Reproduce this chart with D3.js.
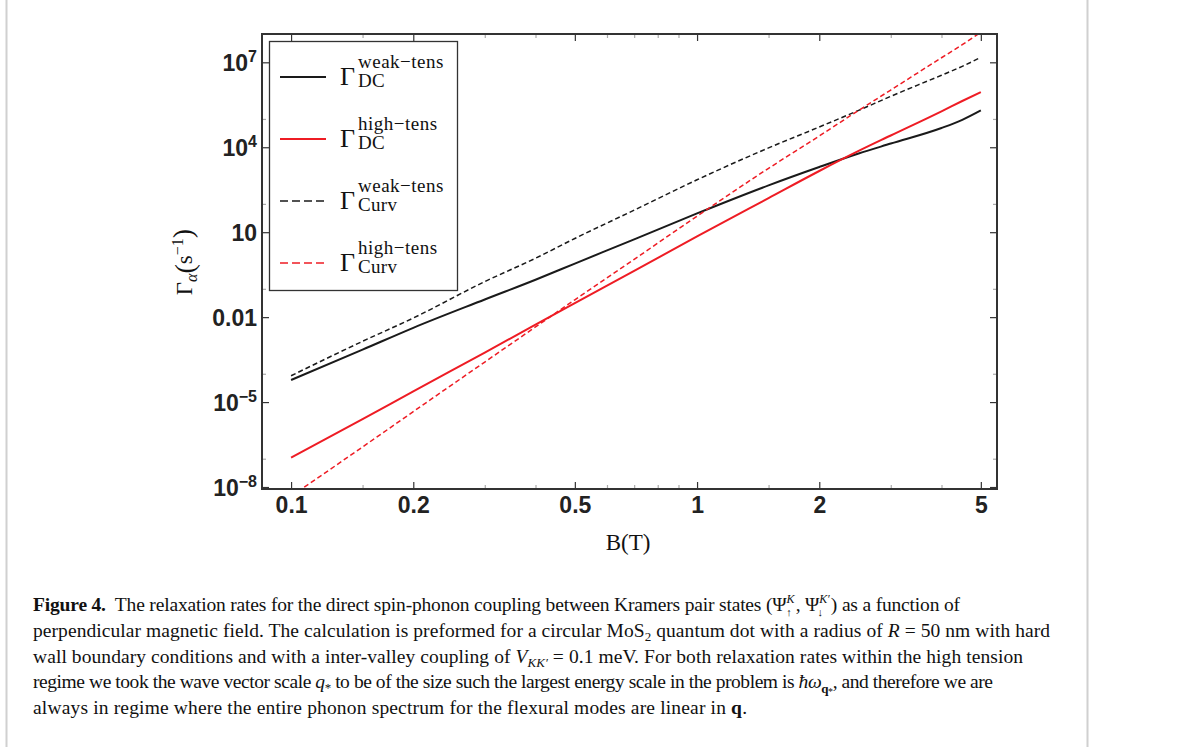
<!DOCTYPE html>
<html>
<head>
<meta charset="utf-8">
<script src="https://cdn.jsdelivr.net/npm/d3@7"></script>
<style>
  body { margin: 0; background: #fff; }
  svg { display: block; }
  .tick-label { font-family: "Liberation Sans", Arial, sans-serif; font-weight: bold; font-size: 23px; fill: #222; }
  .serif { font-family: "Liberation Serif", "Times New Roman", serif; fill: #111; }
</style>
</head>
<body>
<svg id="chart" width="1179" height="747"></svg>
<script>
// magnetic field B (T) and the four relaxation rates (s^-1)
const fieldB = [0.1, 0.15, 0.2, 0.3, 0.4, 0.5, 0.7, 1, 1.5, 2, 2.5, 3, 4, 4.5, 5];
const rateDcWeak = [6.0e-5, 7.1e-4, 4.2e-3, 4.2e-2, 0.21, 0.78, 5.6, 46, 450, 2.0e3, 6.0e3, 1.35e4, 4.8e4, 9.3e4, 2.0e5];
const rateDcHigh = [1.1e-7, 2.5e-6, 2.4e-5, 5.6e-4, 5.4e-3, 3.1e-2, 0.43, 7.1, 160, 1.45e3, 7.4e3, 2.6e4, 1.86e5, 4.3e5, 8.9e5];
const rateCurvWeak = [8.5e-5, 1.4e-3, 9.3e-3, 0.18, 1.2, 6.0, 60, 710, 9.5e3, 5.2e4, 2.0e5, 6.3e5, 3.5e6, 7.2e6, 1.5e7];
const rateCurvHigh = [4.7e-9, 2.6e-7, 4.6e-6, 2.6e-4, 4.5e-3, 4.1e-2, 1.1, 37, 1.8e3, 2.5e4, 2.0e5, 1.05e6, 1.45e7, 4.2e7, 1.15e8];

const xMajorTicks = [0.1, 0.2, 0.5, 1, 2, 5];
const xMinorTicks = [0.15, 0.3, 0.4, 0.6, 0.7, 0.8, 0.9, 1.5, 3, 4];
const yMajorTicks = [1e-8, 1e-5, 0.01, 10, 1e4, 1e7];
const yMinorTicks = [1e-7, 1e-4, 0.1, 100, 1e5];
// [base, exponent] for each major y tick
const yTickLabels = [['10', '−8'], ['10', '−5'], ['0.01', ''], ['10', ''], ['10', '4'], ['10', '7']];

const seriesSup = ['weak−tens', 'high−tens', 'weak−tens', 'high−tens'];
const seriesSub = ['DC', 'DC', 'Curv', 'Curv'];

const series = [
  { values: rateDcWeak, color: '#1a1a1a', dash: null, keyDash: null, width: 2 },
  { values: rateDcHigh, color: '#ee1c24', dash: null, keyDash: null, width: 2 },
  { values: rateCurvWeak, color: '#1a1a1a', dash: '5,3', keyDash: '8,4', width: 1.5 },
  { values: rateCurvHigh, color: '#ee1c24', dash: '5,3', keyDash: '8,4', width: 1.5 },
];

// caption line widths in the reference, used to spread each line
const captionWidths = [927, 1017, 990, 960, 714];

const plot = { left: 262, right: 997, top: 34, bottom: 489 };

const svg = d3.select('#chart');

const x = d3.scaleLog()
  .domain([0.0848, 5.48])
  .range([plot.left, plot.right]);

const y = d3.scaleLog()
  .domain([Math.pow(10, -8.07), 1e8])
  .range([plot.bottom, plot.top]);

// page edges
svg.append('line').attr('x1', 6.5).attr('x2', 6.5).attr('y1', 0).attr('y2', 747)
  .attr('stroke', '#d0d0d0').attr('stroke-width', 2);
svg.append('line').attr('x1', 1087.5).attr('x2', 1087.5).attr('y1', 0).attr('y2', 747)
  .attr('stroke', '#d0d0d0').attr('stroke-width', 2);

svg.append('clipPath').attr('id', 'plot-clip')
  .append('rect')
  .attr('x', plot.left).attr('y', plot.top)
  .attr('width', plot.right - plot.left).attr('height', plot.bottom - plot.top);

// ticks: inward, mirrored on all four sides
const axisStyle = (g, color) => {
  g.select('.domain').remove();
  g.selectAll('.tick line').attr('stroke', color).attr('stroke-width', 1.2);
};

svg.append('g')
  .attr('transform', `translate(0,${plot.bottom})`)
  .call(d3.axisBottom(x).tickValues(xMinorTicks).tickSize(-4).tickFormat(''))
  .call(g => axisStyle(g, '#aaa'));
svg.append('g')
  .attr('transform', `translate(0,${plot.top})`)
  .call(d3.axisTop(x).tickValues(xMinorTicks).tickSize(-4).tickFormat(''))
  .call(g => axisStyle(g, '#aaa'));
svg.append('g')
  .attr('transform', `translate(${plot.left},0)`)
  .call(d3.axisLeft(y).tickValues(yMinorTicks).tickSize(-4).tickFormat(''))
  .call(g => axisStyle(g, '#aaa'));
svg.append('g')
  .attr('transform', `translate(${plot.right},0)`)
  .call(d3.axisRight(y).tickValues(yMinorTicks).tickSize(-4).tickFormat(''))
  .call(g => axisStyle(g, '#aaa'));

svg.append('g')
  .attr('transform', `translate(0,${plot.top})`)
  .call(d3.axisTop(x).tickValues(xMajorTicks).tickSize(-7).tickFormat(''))
  .call(g => axisStyle(g, '#333'));
svg.append('g')
  .attr('transform', `translate(${plot.right},0)`)
  .call(d3.axisRight(y).tickValues(yMajorTicks).tickSize(-7).tickFormat(''))
  .call(g => axisStyle(g, '#333'));

const xAxis = svg.append('g')
  .attr('transform', `translate(0,${plot.bottom})`)
  .call(d3.axisBottom(x).tickValues(xMajorTicks).tickSize(-7).tickPadding(8)
    .tickFormat(d => String(d)))
  .call(g => axisStyle(g, '#333'));
xAxis.selectAll('text')
  .attr('class', 'tick-label')
  .attr('fill', null);

const yAxis = svg.append('g')
  .attr('transform', `translate(${plot.left},0)`)
  .call(d3.axisLeft(y).tickValues(yMajorTicks).tickSize(-7).tickPadding(5).tickFormat(''))
  .call(g => axisStyle(g, '#333'));
yAxis.selectAll('.tick text')
  .attr('class', 'tick-label')
  .attr('fill', null)
  .attr('dy', '0.37em')
  .each(function(d, i) {
    const [base, exp] = yTickLabels[i];
    const t = d3.select(this);
    t.append('tspan').text(base);
    if (exp) {
      t.append('tspan').text(exp)
        .attr('font-size', 16)
        .attr('dy', -9.5);
    }
  });

// curves
const line = d3.line()
  .x((d, i) => x(fieldB[i]))
  .y(d => y(d))
  .curve(d3.curveMonotoneX);

svg.append('g')
  .attr('clip-path', 'url(#plot-clip)')
  .selectAll('path')
  .data(series)
  .join('path')
  .attr('d', d => line(d.values))
  .attr('fill', 'none')
  .attr('stroke', d => d.color)
  .attr('stroke-width', d => d.width)
  .attr('stroke-dasharray', d => d.dash);

// frame
svg.append('rect')
  .attr('x', plot.left).attr('y', plot.top)
  .attr('width', plot.right - plot.left).attr('height', plot.bottom - plot.top)
  .attr('fill', 'none')
  .attr('stroke', '#333')
  .attr('stroke-width', 2);

// legend
const legend = svg.append('g');
legend.append('rect')
  .attr('x', 269.5).attr('y', 41.5)
  .attr('width', 188).attr('height', 249)
  .attr('fill', '#fff')
  .attr('stroke', '#333')
  .attr('stroke-width', 1.3);

const entry = legend.selectAll('g.entry')
  .data(series)
  .join('g')
  .attr('class', 'entry')
  .attr('transform', (d, i) => `translate(0,${77 + i * 62})`);

entry.append('line')
  .attr('x1', 280).attr('x2', 326)
  .attr('stroke', d => d.color)
  .attr('stroke-width', d => d.width)
  .attr('stroke-dasharray', d => d.keyDash);

entry.append('text')
  .attr('class', 'serif')
  .attr('x', 340)
  .attr('y', 8)
  .attr('font-size', 26)
  .text('Γ');

entry.append('text')
  .attr('class', 'serif')
  .attr('x', 358)
  .attr('y', -9)
  .attr('font-size', 19)
  .attr('letter-spacing', 0.5)
  .text((d, i) => seriesSup[i]);

entry.append('text')
  .attr('class', 'serif')
  .attr('x', 358)
  .attr('y', 10)
  .attr('font-size', 19)
  .attr('letter-spacing', 0.3)
  .text((d, i) => seriesSub[i]);

// axis titles
svg.append('text')
  .attr('class', 'serif')
  .attr('x', 628)
  .attr('y', 550)
  .attr('text-anchor', 'middle')
  .attr('font-size', 23)
  .text('B(T)');

const yTitle = svg.append('text')
  .attr('class', 'serif')
  .attr('transform', 'translate(192,262) rotate(-90)')
  .attr('text-anchor', 'middle')
  .attr('font-size', 23);
yTitle.append('tspan').text('Γ');
yTitle.append('tspan').text('α').attr('font-style', 'italic').attr('font-size', 16).attr('dy', 5);
yTitle.append('tspan').text('(').attr('font-size', 28).attr('dy', -3);
yTitle.append('tspan').text('s').attr('dy', -2);
yTitle.append('tspan').text('−1').attr('font-size', 16).attr('dy', -9);
yTitle.append('tspan').text(')').attr('font-size', 28).attr('dy', 9);

// caption
const captionLines = [
  [
    { t: 'Figure 4.', b: true },
    { t: '  The relaxation rates for the direct spin-phonon coupling between Kramers pair states (Ψ' },
    { t: 'K', i: true, s: 12, dy: -8 },
    { t: '↑', s: 11, dx: -8, dy: 13 },
    { t: ', Ψ', dx: 4, dy: -5 },
    { t: 'K′', i: true, s: 12, dy: -8 },
    { t: '↓', s: 11, dx: -12, dy: 13 },
    { t: ') as a function of', dx: 8, dy: -5 },
  ],
  [
    { t: 'perpendicular magnetic field. The calculation is preformed for a circular MoS' },
    { t: '2', s: 13, dy: 4 },
    { t: ' quantum dot with a radius of ', dy: -4 },
    { t: 'R', i: true },
    { t: ' = 50 nm with hard' },
  ],
  [
    { t: 'wall boundary conditions and with a inter-valley coupling of ' },
    { t: 'V', i: true },
    { t: 'KK′', i: true, s: 13, dy: 4 },
    { t: ' = 0.1 meV. For both relaxation rates within the high tension', dy: -4 },
  ],
  [
    { t: 'regime we took the wave vector scale ' },
    { t: 'q', i: true },
    { t: '*', s: 13, dy: 4 },
    { t: ' to be of the size such the largest energy scale in the problem is ', dy: -4 },
    { t: 'ħω', i: true },
    { t: 'q', b: true, s: 13, dy: 5 },
    { t: '*', s: 10, dy: 2 },
    { t: ', and therefore we are', dy: -7 },
  ],
  [
    { t: 'always in regime where the entire phonon spectrum for the flexural modes are linear in ' },
    { t: 'q', b: true },
    { t: '.' },
  ],
];

captionLines.forEach((segs, row) => {
  const text = svg.append('text')
    .attr('class', 'serif')
    .attr('x', 33)
    .attr('y', 611 + row * 25.8)
    .attr('font-size', 19.5)
    .attr('textLength', captionWidths[row])
    .attr('lengthAdjust', 'spacing')
    .style('white-space', 'pre');
  segs.forEach(s => {
    const span = text.append('tspan').text(s.t);
    if (s.b) span.attr('font-weight', 'bold');
    if (s.i) span.attr('font-style', 'italic');
    if (s.s) span.attr('font-size', s.s);
    if (s.dx) span.attr('dx', s.dx);
    if (s.dy) span.attr('dy', s.dy);
  });
});
</script>
</body>
</html>
